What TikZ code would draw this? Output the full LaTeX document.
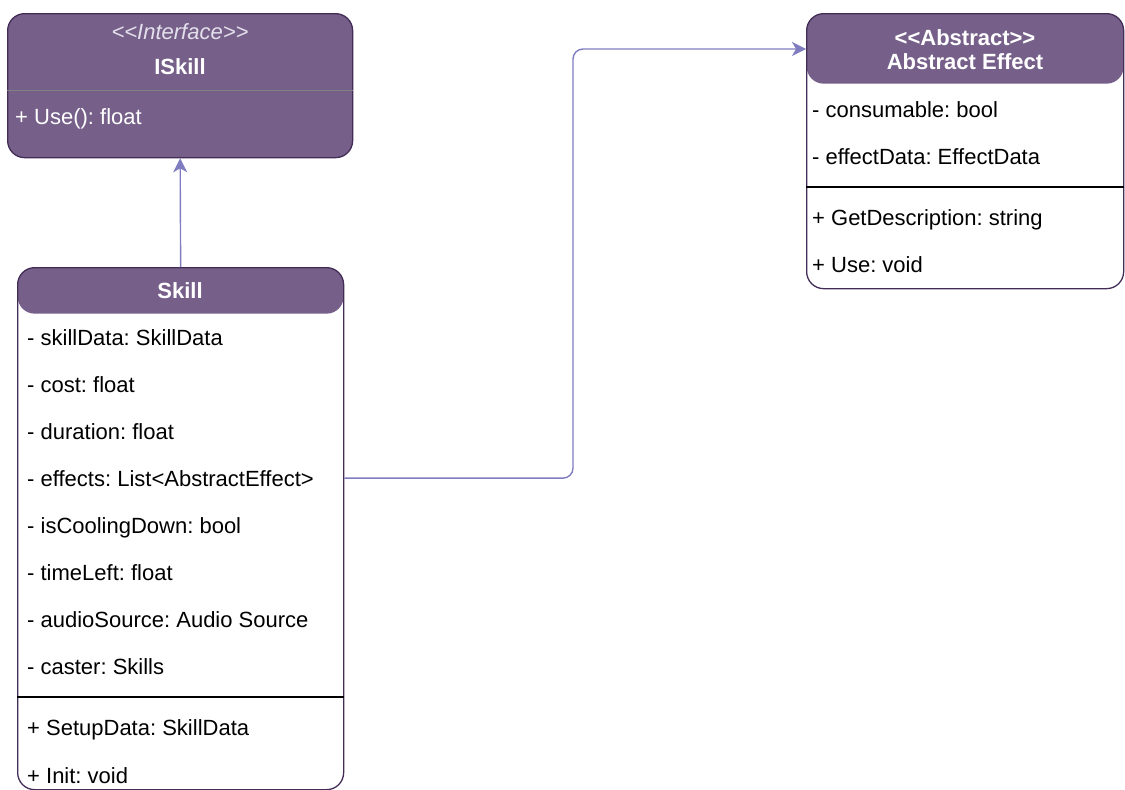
\documentclass[tikz,border=0pt]{standalone}
\usepackage{fontspec}
\newfontfamily\umlfont{Liberation Sans}
\usetikzlibrary{arrows.meta}
\frenchspacing

\definecolor{umlfill}{RGB}{118,96,138}
\definecolor{umlline}{RGB}{67,45,87}
\definecolor{linkcol}{RGB}{128,124,192}
\definecolor{stereo}{RGB}{228,224,236}

\begin{document}
\begin{tikzpicture}[x=1pt,y=-1pt,
  classframe/.style={draw=umlline, line width=1.3pt, fill=white,
    rounded corners=17pt, inner sep=0pt, anchor=north west},
  hdr/.style={path picture={\fill[umlfill] (path picture bounding box.north west)
    rectangle ([yshift=-#1]path picture bounding box.north east);}},
  row/.style={anchor=base west, inner sep=0pt,
    font=\umlfont\fontsize{22}{26}\selectfont, text=black},
  title/.style={anchor=base, inner sep=0pt,
    font=\umlfont\fontsize{22}{26}\selectfont\bfseries, text=white},
  sepline/.style={draw=black, line width=1.2pt},
  link/.style={draw=linkcol, line width=1.4pt,
    -{Stealth[length=14pt,width=14pt,inset=4pt]}}
]
\useasboundingbox (0,0) rectangle (1125,790);

% ---------------- ISkill interface ----------------
\node[classframe, fill=umlfill, minimum width=345pt, minimum height=144pt]
  (iskill) at (7,13) {};
\node[title, font=\umlfont\fontsize{22}{26}\selectfont\itshape, text=stereo]
  (iskillst) at (180,39) {<<Interface>>};
\node[title] (iskillname) at (180,74) {ISkill};
\draw[draw=gray, line width=1pt] (iskill.west |- 0,90) -- (iskill.east |- 0,90);
\node[row, text=white] (iuse) at (15,124) {+ Use(): float};

% ---------------- Skill class ----------------
\node[classframe, hdr=46pt, minimum width=326pt, minimum height=522pt]
  (skill) at (17,267) {};
\node[title] (skillname) at (180,298) {Skill};
\node[row] (skilldata) at (27,345) {- skillData: SkillData};
\node[row] (cost)      at (27,392) {- cost: float};
\node[row] (duration)  at (27,439) {- duration: float};
\node[row] (effects)   at (27,486) {- effects: List<AbstractEffect>};
\node[row] (cooling)   at (27,533) {- isCoolingDown: bool};
\node[row] (timeleft)  at (27,580) {- timeLeft: float};
\node[row] (audio)     at (27,627) {- audioSource: Audio Source};
\node[row] (caster)    at (27,674) {- caster: Skills};
\draw[sepline] (skill.west |- 0,697) -- (skill.east |- 0,697);
\node[row] (setup) at (27,735) {+ SetupData: SkillData};
\node[row] (init)  at (27,783) {+ Init: void};

% ---------------- Abstract Effect class ----------------
\node[classframe, hdr=70pt, minimum width=317pt, minimum height=275pt]
  (abs) at (806,13) {};
\node[title] (absst)   at (965,45) {<<Abstract>>};
\node[title] (absname) at (965,69) {Abstract Effect};
\node[row] (consumable) at (812,117) {- consumable: bool};
\node[row] (effdata)    at (812,164) {- effectData: EffectData};
\draw[sepline] (abs.west |- 0,187) -- (abs.east |- 0,187);
\node[row] (getdesc) at (812,225) {+ GetDescription: string};
\node[row] (absuse)  at (812,272) {+ Use: void};

% ---------------- Connectors ----------------
\draw[link] (skill.north) -- (iskill.south);
\coordinate (bend) at (573,0);
\coordinate (absin) at ([yshift=-36pt]abs.north west);
\draw[link, rounded corners=10pt]
  (skill.east |- effects) -| (bend |- absin) -- (absin);
\end{tikzpicture}
\end{document}
